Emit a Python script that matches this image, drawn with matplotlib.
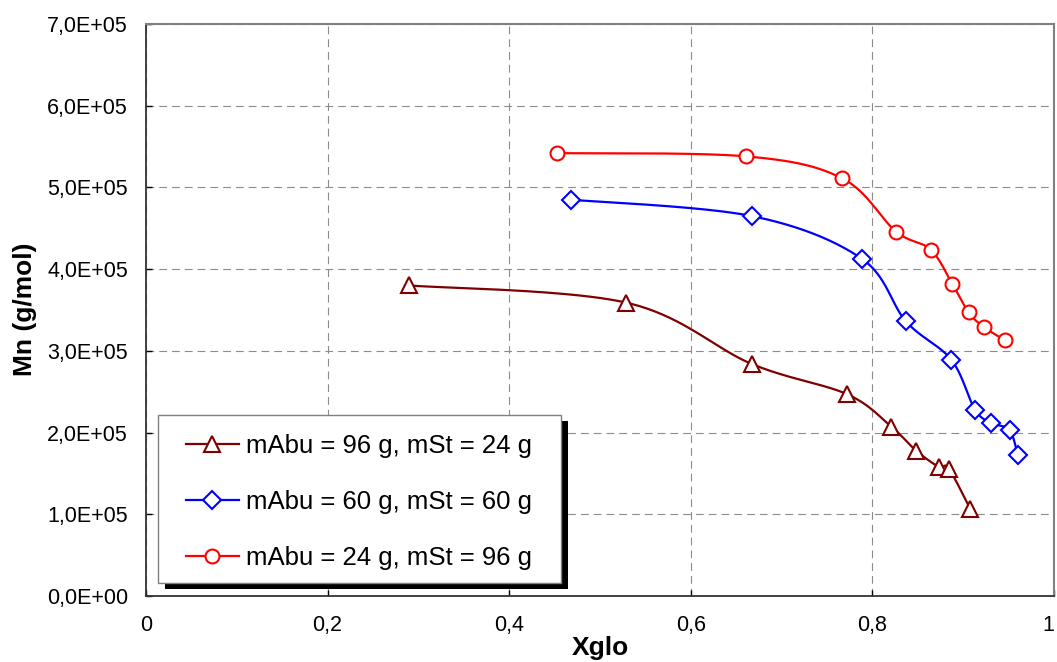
import numpy as np
import matplotlib
matplotlib.use("Agg")
import matplotlib.pyplot as plt
from matplotlib.lines import Line2D
from matplotlib.patches import Rectangle

plt.rcParams['font.family'] = ['Liberation Sans', 'DejaVu Sans']

# ---- data ----
labels = ["mAbu = 96 g, mSt = 24 g", "mAbu = 60 g, mSt = 60 g", "mAbu = 24 g, mSt = 96 g"]
x_9624 = [0.290, 0.529, 0.667, 0.772, 0.821, 0.848, 0.873, 0.884, 0.908]
mn_9624 = [3.80e5, 3.59e5, 2.84e5, 2.47e5, 2.07e5, 1.78e5, 1.58e5, 1.56e5, 1.06e5]
x_6060 = [0.468, 0.667, 0.788, 0.837, 0.887, 0.913, 0.931, 0.951, 0.960]
mn_6060 = [4.85e5, 4.65e5, 4.13e5, 3.36e5, 2.89e5, 2.28e5, 2.12e5, 2.03e5, 1.73e5]
x_2496 = [0.453, 0.661, 0.767, 0.826, 0.864, 0.888, 0.906, 0.923, 0.946]
mn_2496 = [5.42e5, 5.38e5, 5.11e5, 4.46e5, 4.24e5, 3.82e5, 3.47e5, 3.29e5, 3.13e5]
x_ticks = [0, 0.2, 0.4, 0.6, 0.8, 1.0]
y_ticks = [0, 1e5, 2e5, 3e5, 4e5, 5e5, 6e5, 7e5]

series = [
    (x_9624, mn_9624, "#800000", "^", 11),
    (x_6060, mn_6060, "#0000FF", "D", 9),
    (x_2496, mn_2496, "#FF0000", "o", 10),
]

W, H = 1057, 662
fig = plt.figure(figsize=(W / 100, H / 100), dpi=100)
ax_l, ax_r, ax_t, ax_b = 146, 1054, 24, 596
ax = fig.add_axes([ax_l / W, 1 - ax_b / H, (ax_r - ax_l) / W, (ax_b - ax_t) / H])
ax.set_xlim(0, 1)
ax.set_ylim(0, 7e5)

sx = (ax_r - ax_l) / 1.0
sy = (ax_b - ax_t) / 7e5


def smooth(xs, ys, n=40):
    P = np.column_stack([np.asarray(xs) * sx, np.asarray(ys) * sy])
    out = []
    m = len(P)
    for i in range(m - 1):
        p0 = P[i - 1] if i > 0 else P[i]
        p1 = P[i]
        p2 = P[i + 1]
        p3 = P[i + 2] if i + 2 < m else P[i + 1]
        c1 = p1 + (p2 - p0) / 6.0
        c2 = p2 - (p3 - p1) / 6.0
        t = np.linspace(0, 1, n)[:, None]
        seg = ((1 - t) ** 3) * p1 + 3 * ((1 - t) ** 2) * t * c1 + 3 * (1 - t) * t ** 2 * c2 + t ** 3 * p2
        out.append(seg if i == 0 else seg[1:])
    S = np.vstack(out)
    return S[:, 0] / sx, S[:, 1] / sy


handles = []
for (xs, ys, col, mk, ms), lab in zip(series, labels):
    cx, cy = smooth(xs, ys)
    ax.plot(cx, cy, color=col, lw=1.6, zorder=3, solid_capstyle='round')
    ax.plot(xs, ys, linestyle='none', marker=mk, ms=ms, mfc='white', mec=col, mew=1.5,
            zorder=4, clip_on=False)
    handles.append(Line2D([], [], color=col, lw=1.6, marker=mk, ms=ms, mfc='white',
                          mec=col, mew=1.5))

# grid and ticks
ax.set_xticks(x_ticks)
ax.set_yticks(y_ticks)
ax.set_xticklabels([("%g" % v).replace('.', ',') for v in x_ticks])
ax.set_yticklabels([("%.1E" % v).replace('.', ',') for v in y_ticks])
ax.grid(True, color='#8c8c8c', lw=0.8, linestyle=(0, (7, 4.5)), zorder=1)
ax.tick_params(axis='both', direction='in', length=4.5, width=1.0, color='black',
               labelsize=15.5, labelcolor='black')
ax.tick_params(axis='y', pad=13)
ax.tick_params(axis='x', pad=14)
ax.tick_params(top=False, right=False)
ax.get_xticklabels()[-1].set_horizontalalignment('right')

for s in ['left', 'bottom']:
    ax.spines[s].set_color('#333333')
    ax.spines[s].set_linewidth(1.3)
for s in ['top', 'right']:
    ax.spines[s].set_color('#808080')
    ax.spines[s].set_linewidth(1.5)

# axis titles
fig.text(600 / W, 1 - 655 / H, "Xglo", ha='center', va='baseline', fontsize=19, fontweight='bold')
fig.text(32 / W, 1 - 309 / H, "Mn (g/mol)", ha='center', va='baseline', rotation=90,
         rotation_mode='anchor', fontsize=19, fontweight='bold')

# legend with manual frame and hard black shadow
def fx(p):
    return (p - ax_l) / (ax_r - ax_l)


def fy(p):
    return (ax_b - p) / (ax_b - ax_t)


lg_l, lg_t, lg_r, lg_b = 158, 415, 561, 583
ax.add_patch(Rectangle((fx(lg_l + 7), fy(lg_b + 6)), fx(lg_r) - fx(lg_l), fy(lg_t) - fy(lg_b),
                       transform=ax.transAxes, facecolor='black', edgecolor='none', zorder=5))
ax.add_patch(Rectangle((fx(lg_l), fy(lg_b)), fx(lg_r) - fx(lg_l), fy(lg_t) - fy(lg_b),
                       transform=ax.transAxes, facecolor='white', edgecolor='#808080', lw=1.0, zorder=5.1))
leg = ax.legend(handles, labels, loc='upper left', bbox_to_anchor=(fx(186), fy(434)),
                frameon=False, borderpad=0, borderaxespad=0, fontsize=18.5,
                handlelength=2.05, handletextpad=0.3, labelspacing=1.25)
leg.set_zorder(6)

fig.savefig("out.png", dpi=100)
